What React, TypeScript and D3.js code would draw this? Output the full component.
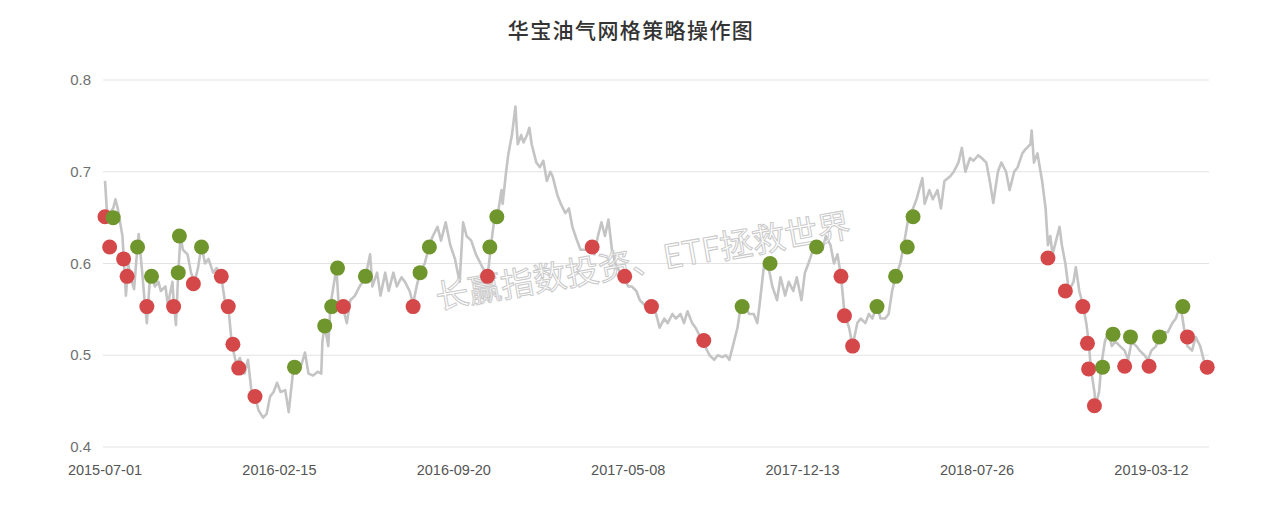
import React from "react";
import * as d3 from "d3";

const title = "华宝油气网格策略操作图";
const watermark = "长赢指数投资、ETF拯救世界";

// x-axis category labels, one every 150 trading days
const tickDays = [0, 150, 300, 450, 600, 750, 900];
const tickLabels = ["2015-07-01", "2016-02-15", "2016-09-20", "2017-05-08", "2017-12-13", "2018-07-26", "2019-03-12"];
const yTicks = [0.4, 0.5, 0.6, 0.7, 0.8];

// price line: trading-day index and NAV value
const priceDays = [
  0, 2, 4, 7, 9, 11, 13, 15, 18, 20, 22, 25, 28, 29, 32, 34, 36, 39, 43, 46, 48, 52, 54, 58, 59, 61, 63, 65, 67, 71,
  74, 77, 80, 83, 86, 89, 93, 96, 100, 103, 106, 109, 113, 116, 120, 123, 126, 129, 132, 136, 139, 142, 145, 148, 151, 155, 158, 162, 165, 169,
  172, 175, 179, 183, 186, 187, 189, 192, 194, 199, 201, 204, 208, 211, 215, 219, 224, 228, 230, 234, 237, 241, 244, 248, 251, 255, 258, 262, 265, 268,
  271, 275, 279, 282, 286, 289, 293, 297, 301, 305, 308, 311, 315, 319, 323, 327, 329, 332, 335, 338, 341, 342, 345, 347, 350, 353, 355, 358, 360, 363,
  365, 367, 371, 374, 377, 380, 383, 385, 389, 392, 396, 399, 402, 406, 409, 414, 417, 421, 424, 427, 430, 433, 436, 439, 443, 446, 450, 453, 457, 460,
  464, 467, 470, 474, 477, 481, 484, 488, 491, 495, 498, 501, 505, 508, 512, 516, 520, 524, 527, 531, 534, 537, 540, 544, 547, 550, 554, 558, 561, 563,
  567, 570, 574, 578, 581, 585, 588, 592, 595, 599, 602, 605, 609, 612, 617, 620, 624, 627, 630, 633, 635, 636, 640, 643, 647, 650, 654, 657, 660, 664,
  667, 671, 674, 677, 680, 684, 687, 691, 695, 698, 703, 705, 709, 712, 716, 719, 722, 727, 730, 734, 737, 740, 744, 747, 751, 754, 758, 761, 764, 768,
  771, 775, 778, 782, 785, 789, 792, 796, 797, 799, 802, 806, 809, 811, 813, 815, 819, 821, 823, 826, 829, 833, 835, 838, 841, 844, 846, 848, 851, 852,
  855, 857, 860, 863, 866, 869, 873, 877, 880, 883, 887, 890, 894, 897, 900, 904, 907, 911, 914, 918, 921, 925, 928, 931, 935, 938, 942, 945, 949,
];
const priceValues = [
  0.69, 0.65, 0.655, 0.66, 0.67, 0.66, 0.645, 0.63, 0.565, 0.6, 0.585, 0.572, 0.62, 0.632, 0.59, 0.56, 0.535, 0.59, 0.575, 0.58, 0.57, 0.575, 0.555, 0.58, 0.56, 0.533, 0.59, 0.63, 0.615, 0.61,
  0.59, 0.58, 0.595, 0.62, 0.6, 0.605, 0.59, 0.595, 0.585, 0.56, 0.554, 0.513, 0.49, 0.497, 0.48, 0.495, 0.46, 0.456, 0.44, 0.432, 0.436, 0.455, 0.46, 0.47, 0.46, 0.462, 0.438, 0.485, 0.48, 0.49,
  0.503, 0.48, 0.478, 0.482, 0.48, 0.515, 0.533, 0.51, 0.555, 0.595, 0.555, 0.555, 0.535, 0.56, 0.565, 0.575, 0.585, 0.61, 0.575, 0.59, 0.565, 0.59, 0.57, 0.59, 0.575, 0.585, 0.58, 0.57, 0.556, 0.575,
  0.59, 0.6, 0.62, 0.63, 0.64, 0.625, 0.645, 0.62, 0.605, 0.58, 0.645, 0.63, 0.625, 0.61, 0.6, 0.59, 0.585, 0.62, 0.65, 0.655, 0.68, 0.665, 0.7, 0.72, 0.74, 0.771, 0.73, 0.74, 0.732, 0.74,
  0.748, 0.73, 0.71, 0.705, 0.712, 0.69, 0.7, 0.695, 0.675, 0.665, 0.655, 0.66, 0.64, 0.625, 0.615, 0.615, 0.62, 0.61, 0.63, 0.645, 0.63, 0.648, 0.615, 0.6, 0.59, 0.585, 0.575, 0.575, 0.57, 0.56,
  0.555, 0.55, 0.555, 0.545, 0.53, 0.54, 0.535, 0.545, 0.54, 0.545, 0.535, 0.548, 0.535, 0.53, 0.52, 0.51, 0.5, 0.495, 0.5, 0.498, 0.5, 0.495, 0.51, 0.53, 0.555, 0.555, 0.545, 0.545, 0.535, 0.555,
  0.6, 0.6, 0.575, 0.56, 0.585, 0.565, 0.58, 0.57, 0.585, 0.56, 0.59, 0.6, 0.615, 0.62, 0.615, 0.63, 0.62, 0.6, 0.61, 0.586, 0.56, 0.545, 0.53, 0.51, 0.535, 0.54, 0.535, 0.545, 0.54, 0.555,
  0.54, 0.54, 0.545, 0.57, 0.586, 0.6, 0.62, 0.65, 0.66, 0.67, 0.693, 0.665, 0.68, 0.67, 0.68, 0.66, 0.69, 0.695, 0.7, 0.71, 0.726, 0.7, 0.715, 0.712, 0.718, 0.715, 0.71, 0.69, 0.666, 0.7,
  0.71, 0.7, 0.68, 0.7, 0.705, 0.72, 0.725, 0.73, 0.745, 0.71, 0.72, 0.69, 0.66, 0.62, 0.63, 0.61, 0.63, 0.64, 0.62, 0.6, 0.57, 0.58, 0.596, 0.57, 0.555, 0.535, 0.515, 0.485, 0.46, 0.445,
  0.46, 0.49, 0.515, 0.525, 0.51, 0.515, 0.51, 0.505, 0.495, 0.515, 0.51, 0.505, 0.5, 0.495, 0.505, 0.51, 0.52, 0.525, 0.525, 0.535, 0.54, 0.555, 0.53, 0.51, 0.505, 0.52, 0.51, 0.495, 0.487,
];

// red markers (buy) and green markers (sell)
const buyDays = [0, 4, 16, 19, 36, 59, 76, 100, 106, 110, 115, 129, 205, 265, 329, 419, 447, 470, 515, 633, 636, 643, 811, 826, 841, 845, 846, 851, 877, 898, 931, 948];
const buyValues = [0.651, 0.618, 0.605, 0.586, 0.553, 0.553, 0.578, 0.586, 0.553, 0.512, 0.486, 0.455, 0.553, 0.553, 0.586, 0.618, 0.586, 0.553, 0.516, 0.586, 0.543, 0.51, 0.606, 0.57, 0.553, 0.513, 0.485, 0.445, 0.488, 0.488, 0.52, 0.487];
const sellDays = [7, 28, 40, 63, 64, 83, 163, 189, 195, 200, 224, 271, 279, 331, 337, 548, 572, 612, 664, 680, 690, 695, 858, 867, 882, 907, 927];
const sellValues = [0.65, 0.618, 0.586, 0.59, 0.63, 0.618, 0.487, 0.532, 0.553, 0.595, 0.586, 0.59, 0.618, 0.618, 0.651, 0.553, 0.6, 0.618, 0.553, 0.586, 0.618, 0.651, 0.487, 0.523, 0.52, 0.52, 0.553];

const W = 1269;
const H = 513;

export default function App() {
  const x = d3.scaleLinear().domain([0, 900]).range([105, 1151.4]);
  const y = d3.scaleLinear().domain([0.4, 0.8]).range([447, 80]);
  const gridX0 = 103;
  const gridX1 = 1209;

  const pts: [number, number][] = priceDays.map((d, i) => [d, priceValues[i]]);
  const line = d3
    .line<[number, number]>()
    .x((d) => x(d[0]))
    .y((d) => y(d[1]));

  const markers = [
    ...buyDays.map((d, i) => ({ d, v: buyValues[i], c: "#d4484a" })),
    ...sellDays.map((d, i) => ({ d, v: sellValues[i], c: "#6f952d" })),
  ].sort((a, b) => a.d - b.d);

  const axisFont = "'Liberation Sans', Arial, sans-serif";

  return (
    <svg
      width={W}
      height={H}
      style={{ position: "absolute", left: 0, top: 0, display: "block", background: "#fff" }}
    >
      <text
        x={631}
        y={38}
        textAnchor="middle"
        fontFamily="'Noto Sans CJK SC', sans-serif"
        fontSize={21}
        letterSpacing={1.4}
        fontWeight={500}
        fill="#333"
      >
        {title}
      </text>
      {yTicks.map((t) => (
        <g key={t}>
          <line x1={gridX0} x2={gridX1} y1={y(t)} y2={y(t)} stroke="#e3e3e3" strokeWidth={1} />
          <text
            x={91}
            y={y(t) + 5}
            textAnchor="end"
            fontFamily={axisFont}
            fontSize={15}
            fill="#707070"
          >
            {t.toFixed(1)}
          </text>
        </g>
      ))}
      {tickDays.map((d, i) => (
        <text
          key={d}
          x={x(d)}
          y={475}
          textAnchor="middle"
          fontFamily={axisFont}
          fontSize={14.5}
          fill="#555"
        >
          {tickLabels[i]}
        </text>
      ))}
      <path d={line(pts) || ""} fill="none" stroke="#c4c4c4" strokeWidth={2.6} strokeLinejoin="round" />
      <text
        x={643}
        y={273}
        textAnchor="middle"
        transform="rotate(-10 643 262)"
        fontFamily="'Noto Sans CJK SC', sans-serif"
        fontSize={33}
        fill="rgba(255,255,255,0.55)"
        stroke="#c9c9c9"
        strokeWidth={1}
      >
        {watermark}
      </text>
      {markers.map((m, i) => (
        <circle key={i} cx={x(m.d)} cy={y(m.v)} r={7.5} fill={m.c} />
      ))}
    </svg>
  );
}
